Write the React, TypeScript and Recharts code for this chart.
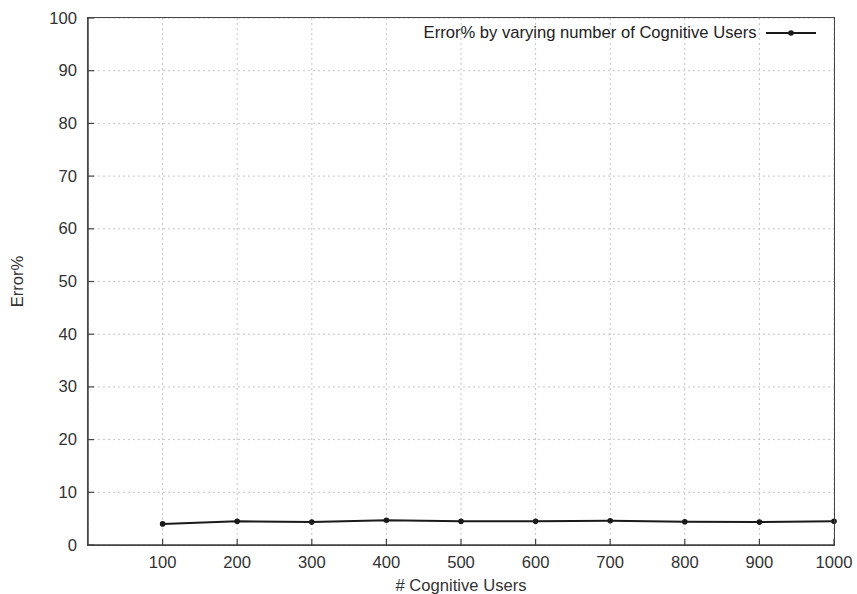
import { LineChart, Line, XAxis, YAxis, CartesianGrid, Legend } from "recharts";

const users = [100, 200, 300, 400, 500, 600, 700, 800, 900, 1000];
const errorPct = [4.0, 4.5, 4.35, 4.7, 4.5, 4.5, 4.6, 4.4, 4.35, 4.5];
const xTicks = [100, 200, 300, 400, 500, 600, 700, 800, 900, 1000];
const yTicks = [0, 10, 20, 30, 40, 50, 60, 70, 80, 90, 100];
const seriesName = "Error% by varying number of Cognitive Users";

const data = users.map((u, i) => ({ users: u, error: errorPct[i] }));

const FONT = '"Liberation Sans", Arial, sans-serif';
const FS = 16.6;
const AXIS = "#444";
const TEXT = "#333";

function BottomTick({ x, y, payload }: any) {
  return (
    <g>
      <line x1={x} x2={x} y1={y} y2={y - 6} stroke={AXIS} strokeWidth={1.2} />
      <text x={x} y={y + 23} textAnchor="middle" fontSize={FS} fill={TEXT} fontFamily={FONT}>
        {payload.value}
      </text>
    </g>
  );
}

function LeftTick({ x, y, payload }: any) {
  return (
    <g>
      <line x1={x} x2={x + 6} y1={y} y2={y} stroke={AXIS} strokeWidth={1.2} />
      <text x={x - 11} y={y + 5.5} textAnchor="end" fontSize={FS} fill={TEXT} fontFamily={FONT}>
        {payload.value}
      </text>
    </g>
  );
}

function YTitle({ viewBox }: any) {
  const cx = viewBox.x + 23;
  const cy = viewBox.y + viewBox.height / 2;
  return (
    <text
      x={cx}
      y={cy}
      transform={`rotate(-90, ${cx}, ${cy})`}
      textAnchor="middle"
      fontSize={FS}
      fill={TEXT}
      fontFamily={FONT}
    >
      Error%
    </text>
  );
}

function Dot({ cx, cy }: any) {
  return <circle cx={cx} cy={cy} r={2.8} fill="#1a1a1a" />;
}

// legend box doubles as the plot frame (gnuplot border)
function LegendBox() {
  return (
    <div
      style={{
        boxSizing: "border-box",
        width: "100%",
        height: "100%",
        border: `1.5px solid ${AXIS}`,
        display: "flex",
        justifyContent: "flex-end",
        alignItems: "flex-start",
        paddingTop: 5.25,
        paddingRight: 18.25,
      }}
    >
      <div style={{ display: "flex", alignItems: "center", fontFamily: FONT, fontSize: FS, color: "#222", lineHeight: "18px" }}>
        <span>{seriesName}</span>
        <svg width={50} height={10} style={{ marginLeft: 9 }}>
          <line x1={0} x2={50} y1={5} y2={5} stroke="#1a1a1a" strokeWidth={2} />
          <circle cx={25} cy={5} r={2.8} fill="#1a1a1a" />
        </svg>
      </div>
    </div>
  );
}

export default function App() {
  return (
    <div style={{ position: "absolute", left: 0, top: 0, background: "#fff" }}>
      <LineChart width={857} height={594} data={data} margin={{ top: 18, right: 23, left: 0, bottom: 0 }}>
        <CartesianGrid stroke="#c4c4c4" strokeDasharray="2 3" strokeWidth={1} />
        <XAxis
          dataKey="users"
          type="number"
          domain={[0, 1000]}
          ticks={xTicks}
          height={49}
          tickSize={0}
          tickMargin={0}
          tickLine={false}
          tick={<BottomTick />}
          axisLine={{ stroke: AXIS, strokeWidth: 1.5 }}
          label={{ value: "# Cognitive Users", position: "insideBottom", offset: 3, fontSize: FS, fill: TEXT, fontFamily: FONT }}
        />
        <YAxis
          type="number"
          domain={[0, 100]}
          ticks={yTicks}
          width={88}
          tickSize={0}
          tickMargin={0}
          tickLine={false}
          tick={<LeftTick />}
          axisLine={{ stroke: AXIS, strokeWidth: 1.5 }}
          label={<YTitle />}
        />
        <Legend
          layout="vertical"
          align="center"
          verticalAlign="middle"
          content={<LegendBox />}
          wrapperStyle={{ top: 17.25, left: 87.25, width: 747.5, height: 528.5, right: "auto", pointerEvents: "none" }}
        />
        <Line
          dataKey="error"
          name={seriesName}
          type="linear"
          stroke="#1a1a1a"
          strokeWidth={2}
          dot={<Dot />}
          activeDot={false}
          isAnimationActive={false}
        />
      </LineChart>
    </div>
  );
}
